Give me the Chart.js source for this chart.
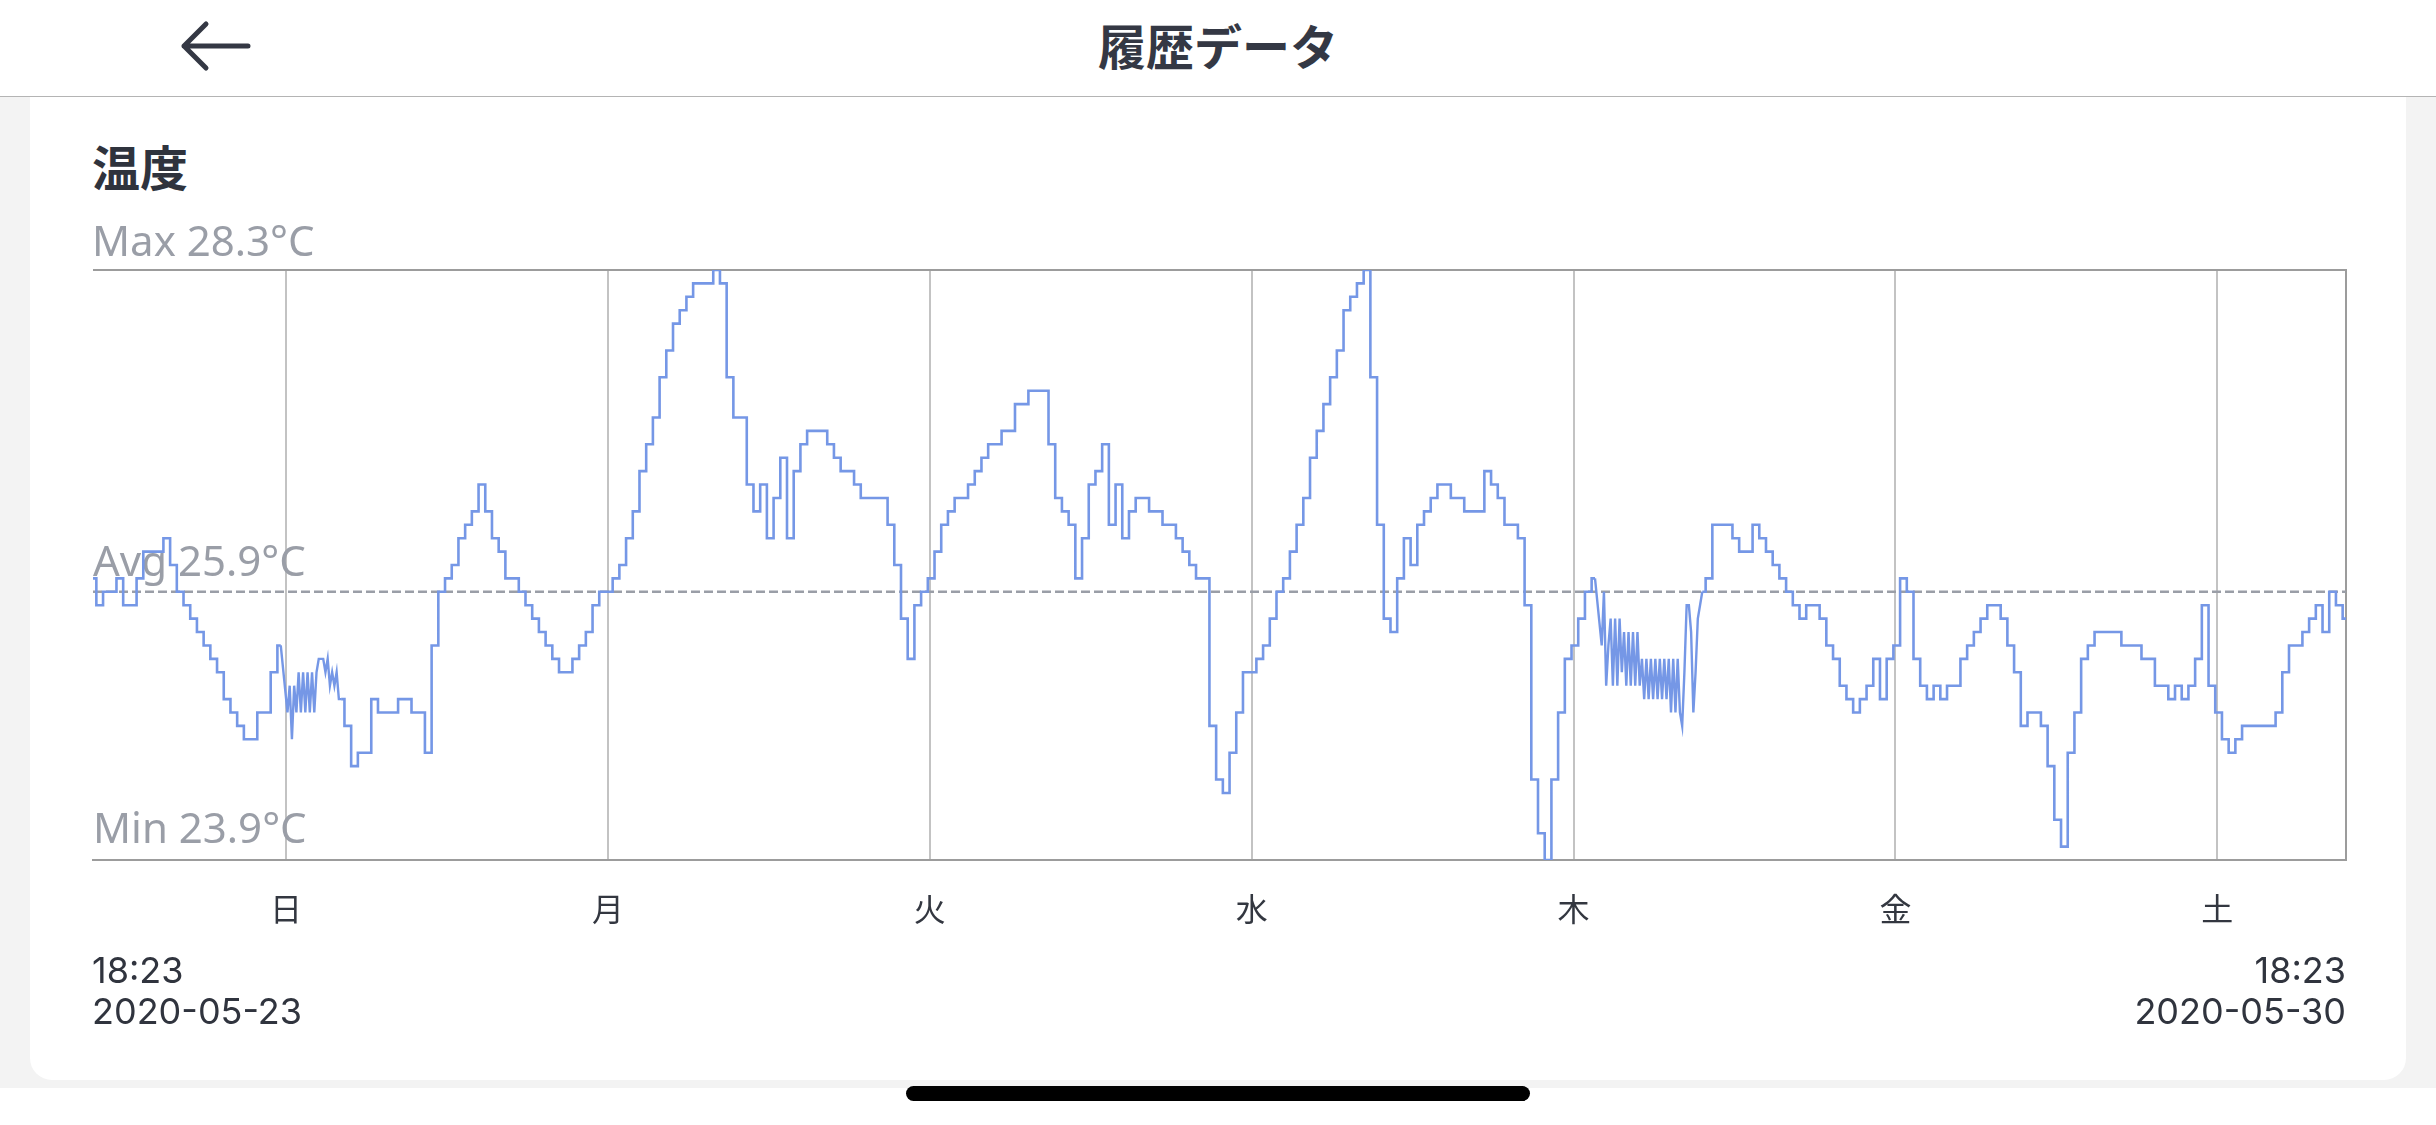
<!DOCTYPE html>
<html lang="ja">
<head>
<meta charset="utf-8">
<title>履歴データ</title>
<script src="https://cdn.jsdelivr.net/npm/chart.js@4.4.1/dist/chart.umd.min.js"></script>
<style>
    html, body { margin: 0; padding: 0; }
    body {
        width: 2436px;
        height: 1125px;
        position: relative;
        overflow: hidden;
        background: #ffffff;
        font-family: "Noto Sans", "Noto Sans CJK JP", sans-serif;
    }
    .header {
        position: absolute; left: 0; top: 0;
        width: 2436px; height: 96px;
        background: #ffffff;
        border-bottom: 1px solid #b4b4b4;
    }
    .header h1 {
        margin: 0;
        position: absolute; left: 0; right: 0; top: 14px;
        text-align: center;
        font-family: "Noto Sans CJK JP", sans-serif;
        font-weight: 700;
        font-size: 48px;
        line-height: 60px;
        color: #343844;
    }
    .back { position: absolute; left: 176px; top: 16px; }
    .page {
        position: absolute; left: 0; top: 97px;
        width: 2436px; height: 991px;
        background: #f3f3f3;
    }
    .card {
        position: absolute; left: 30px; top: 97px;
        width: 2376px; height: 983px;
        background: #ffffff;
        border-radius: 0 0 22px 22px;
    }
    .card-title {
        position: absolute; left: 92px; top: 130px;
        margin: 0;
        font-family: "Noto Sans CJK JP", sans-serif;
        font-weight: 700;
        font-size: 48px;
        line-height: 70px;
        color: #2f333d;
    }
    .chart-box {
        position: absolute; left: 0; top: 0;
        width: 2436px; height: 1060px;
    }
    .home-bar {
        position: absolute; left: 906px; top: 1086px;
        width: 624px; height: 15px;
        border-radius: 8px;
        background: #000000;
    }
</style>
</head>
<body>
<div class="header">
    <svg class="back" width="80" height="60" viewBox="0 0 80 60">
        <path d="M30 8 L8 30 L30 52 M8 30 L72 30" fill="none" stroke="#343844"
              stroke-width="5" stroke-linecap="round" stroke-linejoin="round"/>
    </svg>
    <h1>履歴データ</h1>
</div>
<div class="page"></div>
<div class="card"></div>
<h2 class="card-title">温度</h2>
<div class="chart-box"><canvas id="temp-chart"></canvas></div>
<div class="home-bar"></div>

<script>
// 読み取った値 (30分ごと, 2020-05-23 18:23 から 7日間)
const sampleStep = 0.5; // 時間
const temps = [
    26.0, 25.8, 25.9, 25.9, 26.0, 25.8, 25.8, 26.0, 26.2, 26.2,
    26.2, 26.3, 26.1, 25.9, 25.8, 25.7, 25.6, 25.5, 25.4, 25.3,
    25.1, 25.0, 24.9, 24.8, 24.8, 25.0, 25.0, 25.3, 25.5, 25.0,
    25.3, 25.0, 25.3, 25.0, 25.4, 25.4, 25.2, 25.1, 24.9, 24.6,
    24.7, 24.7, 25.1, 25.0, 25.0, 25.0, 25.1, 25.1, 25.0, 25.0,
    24.7, 25.5, 25.9, 26.0, 26.1, 26.3, 26.4, 26.5, 26.7, 26.5,
    26.3, 26.2, 26.0, 26.0, 25.9, 25.8, 25.7, 25.6, 25.5, 25.4,
    25.3, 25.3, 25.4, 25.5, 25.6, 25.8, 25.9, 25.9, 26.0, 26.1,
    26.3, 26.5, 26.8, 27.0, 27.2, 27.5, 27.7, 27.9, 28.0, 28.1,
    28.2, 28.2, 28.2, 28.3, 28.2, 27.5, 27.2, 27.2, 26.7, 26.5,
    26.7, 26.3, 26.6, 26.9, 26.3, 26.8, 27.0, 27.1, 27.1, 27.1,
    27.0, 26.9, 26.8, 26.8, 26.7, 26.6, 26.6, 26.6, 26.6, 26.4,
    26.1, 25.7, 25.4, 25.8, 25.9, 26.0, 26.2, 26.4, 26.5, 26.6,
    26.6, 26.7, 26.8, 26.9, 27.0, 27.0, 27.1, 27.1, 27.3, 27.3,
    27.4, 27.4, 27.4, 27.0, 26.6, 26.5, 26.4, 26.0, 26.3, 26.7,
    26.8, 27.0, 26.4, 26.7, 26.3, 26.5, 26.6, 26.6, 26.5, 26.5,
    26.4, 26.4, 26.3, 26.2, 26.1, 26.0, 26.0, 24.9, 24.5, 24.4,
    24.7, 25.0, 25.3, 25.3, 25.4, 25.5, 25.7, 25.9, 26.0, 26.2,
    26.4, 26.6, 26.9, 27.1, 27.3, 27.5, 27.7, 28.0, 28.1, 28.2,
    28.3, 27.5, 26.4, 25.7, 25.6, 26.0, 26.3, 26.1, 26.4, 26.5,
    26.6, 26.7, 26.7, 26.6, 26.6, 26.5, 26.5, 26.5, 26.8, 26.7,
    26.6, 26.4, 26.4, 26.3, 25.8, 24.5, 24.1, 23.9, 24.5, 25.0,
    25.4, 25.5, 25.7, 25.9, 26.0, 25.5, 25.2, 25.7, 25.2, 25.5,
    25.2, 25.4, 25.1, 25.4, 25.1, 25.4, 25.0, 24.9, 25.8, 25.5,
    25.9, 26.0, 26.4, 26.4, 26.4, 26.3, 26.2, 26.2, 26.4, 26.3,
    26.2, 26.1, 26.0, 25.9, 25.8, 25.7, 25.8, 25.8, 25.7, 25.5,
    25.4, 25.2, 25.1, 25.0, 25.1, 25.2, 25.4, 25.1, 25.4, 25.5,
    26.0, 25.9, 25.4, 25.2, 25.1, 25.2, 25.1, 25.2, 25.2, 25.4,
    25.5, 25.6, 25.7, 25.8, 25.8, 25.7, 25.5, 25.3, 24.9, 25.0,
    25.0, 24.9, 24.6, 24.2, 24.0, 24.7, 25.0, 25.4, 25.5, 25.6,
    25.6, 25.6, 25.6, 25.5, 25.5, 25.5, 25.4, 25.4, 25.2, 25.2,
    25.1, 25.2, 25.1, 25.2, 25.4, 25.8, 25.2, 25.0, 24.8, 24.7,
    24.8, 24.9, 24.9, 24.9, 24.9, 24.9, 25.0, 25.3, 25.5, 25.5,
    25.6, 25.7, 25.8, 25.6, 25.9, 25.8, 25.7
];

// 細かく揺れている区間 (10分ごと)
const detailStep = 1 / 6; // 時間
const detailStartSun = 14.5;
const detailTempsSun = [
    25.0, 25.2, 24.8, 25.2, 25.0, 25.3, 25.0, 25.3, 25.0, 25.3,
    25.0, 25.3, 25.0, 25.3, 25.4, 25.4, 25.4, 25.3, 25.4, 25.2,
    25.3, 25.2, 25.3, 25.1
];
const detailStartThu = 112.5;
const detailTempsThu = [
    25.5, 25.9, 25.2, 25.5, 25.7, 25.2, 25.7, 25.2, 25.7, 25.3,
    25.6, 25.2, 25.6, 25.2, 25.6, 25.2, 25.6, 25.2, 25.4, 25.1,
    25.4, 25.1, 25.4, 25.1, 25.4, 25.1, 25.4, 25.1, 25.4, 25.1,
    25.4, 25.0, 25.4, 25.0, 25.4, 25.0, 24.9, 25.3, 25.8, 25.8,
    25.6, 25.0, 25.3, 25.7, 25.8
];

const maxTemp = 28.3;
const avgTemp = 25.9;
const minTemp = 23.9;
const rangeHours = 168;

// 曜日の区切り (開始からの時間)
const dayLabels = ['日', '月', '火', '水', '木', '金', '土'];
const dayTickHours = [14.4, 38.4, 62.4, 86.4, 110.4, 134.4, 158.4];

const startTime = '18:23';
const startDate = '2020-05-23';
const endTime = '18:23';
const endDate = '2020-05-30';

const lineColor = '#7597e6';
const latinFont = '"Noto Sans", "Noto Sans CJK JP", sans-serif';
const dateFont = 'Inter, "Noto Sans", sans-serif';

const detailSegments = [
    { start: detailStartSun, values: detailTempsSun },
    { start: detailStartThu, values: detailTempsThu }
];

function segmentEnd(s) {
    return s.start + (s.values.length - 1) * detailStep;
}

// 30分データ (細かい区間は切れ目にする)
function buildMainPoints() {
    const points = [];
    temps.forEach((v, i) => {
        const x = i * sampleStep;
        const seg = detailSegments.find(s => x >= s.start - 0.01 && x <= segmentEnd(s) + 0.01);
        if (!seg) {
            points.push({ x: x, y: v });
        } else if (x === seg.start) {
            points.push({ x: x, y: null });
        }
    });
    return points;
}

// 細かい区間: 前後の30分データにつなげる
function buildDetailPoints(s) {
    const before = Math.floor((s.start - 0.01) / sampleStep);
    const after = Math.ceil((segmentEnd(s) + 0.01) / sampleStep);
    const points = [{ x: before * sampleStep, y: temps[before] }];
    s.values.forEach((v, k) => points.push({ x: s.start + k * detailStep, y: v }));
    points.push({ x: after * sampleStep, y: temps[after] });
    return points;
}

// Max / Avg / Min ラベルと枠線
const overlayPlugin = {
    id: 'overlay',
    beforeDatasetsDraw(chart) {
        const { ctx, chartArea, scales } = chart;
        ctx.save();
        ctx.fillStyle = '#9a9ea7';
        ctx.font = '42px ' + latinFont;
        ctx.textAlign = 'left';
        ctx.textBaseline = 'alphabetic';
        ctx.fillText(`Max ${maxTemp}°C`, chartArea.left - 1, scales.y.getPixelForValue(maxTemp) - 14);
        ctx.fillText(`Avg ${avgTemp}°C`, chartArea.left, scales.y.getPixelForValue(avgTemp) - 16);
        ctx.fillText(`Min ${minTemp}°C`, chartArea.left, scales.y.getPixelForValue(minTemp) - 17);

        // 上と右の枠
        ctx.strokeStyle = '#9c9c9c';
        ctx.lineWidth = 2;
        ctx.beginPath();
        ctx.moveTo(chartArea.left, chartArea.top);
        ctx.lineTo(chartArea.right, chartArea.top);
        ctx.lineTo(chartArea.right, chartArea.bottom);
        ctx.stroke();
        ctx.restore();
    },
    afterDraw(chart) {
        const { ctx, chartArea } = chart;
        ctx.save();
        ctx.fillStyle = '#30343e';
        ctx.font = '36px ' + dateFont;
        ctx.textBaseline = 'alphabetic';
        ctx.textAlign = 'left';
        ctx.fillText(startTime, chartArea.left - 1, chartArea.bottom + 123);
        ctx.fillText(startDate, chartArea.left - 1, chartArea.bottom + 164);
        ctx.textAlign = 'right';
        ctx.fillText(endTime, chartArea.right, chartArea.bottom + 123);
        ctx.fillText(endDate, chartArea.right, chartArea.bottom + 164);
        ctx.restore();
    }
};

document.addEventListener('DOMContentLoaded', () => {
    const ctx = document.getElementById('temp-chart').getContext('2d');

    const lineSets = [
        {
            label: '温度',
            data: buildMainPoints(),
            borderColor: lineColor,
            borderWidth: 2.6,
            pointRadius: 0,
            stepped: 'middle',
            spanGaps: false,
            fill: false
        }
    ];
    detailSegments.forEach(s => {
        lineSets.push({
            label: '温度 (詳細)',
            data: buildDetailPoints(s),
            borderColor: lineColor,
            borderWidth: 2.4,
            pointRadius: 0,
            fill: false
        });
    });
    lineSets.push({
        label: 'Avg',
        data: [{ x: 0, y: avgTemp }, { x: rangeHours, y: avgTemp }],
        borderColor: '#9a9ea7',
        borderWidth: 2.5,
        borderDash: [9, 4],
        pointRadius: 0,
        fill: false
    });

    new Chart(ctx, {
        type: 'line',
        data: { datasets: lineSets },
        options: {
            responsive: true,
            maintainAspectRatio: false,
            animation: false,
            events: [],
            layout: {
                padding: { left: 93, right: 90, top: 270, bottom: 0 }
            },
            scales: {
                x: {
                    type: 'linear',
                    min: 0,
                    max: rangeHours,
                    afterBuildTicks: (scale) => {
                        scale.ticks = dayTickHours.map(h => ({ value: h }));
                    },
                    afterFit: (scale) => {
                        scale.height = 200;
                    },
                    ticks: {
                        autoSkip: false,
                        maxRotation: 0,
                        padding: 30,
                        color: '#333740',
                        font: { family: '"Noto Sans CJK JP", sans-serif', size: 32 },
                        callback: (value, index) => dayLabels[index]
                    },
                    grid: {
                        color: '#c3c3c3',
                        lineWidth: 2,
                        drawTicks: false
                    },
                    border: {
                        display: true,
                        color: '#9c9c9c',
                        width: 2
                    }
                },
                y: {
                    display: false,
                    min: minTemp,
                    max: maxTemp
                }
            },
            plugins: {
                legend: { display: false },
                tooltip: { enabled: false }
            }
        },
        plugins: [overlayPlugin]
    });
});
</script>
</body>
</html>
